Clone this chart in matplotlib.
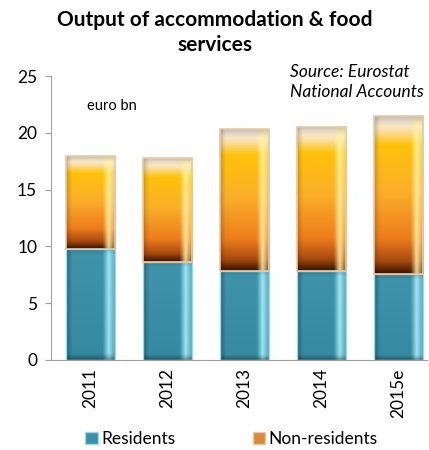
import matplotlib.pyplot as plt
import matplotlib.colors as mcolors
import numpy as np

years = ['2011', '2012', '2013', '2014', '2015e']
residents = [9.8, 8.65, 7.85, 7.8, 7.55]
non_residents = [8.15, 9.1, 12.45, 12.75, 13.9]

plt.rcParams['font.family'] = ['Lato', 'DejaVu Sans']

fig = plt.figure(figsize=(4.29, 4.5), dpi=100)
ax = fig.add_axes([0.119, 0.2, 0.876, 0.631])

x = np.arange(len(years))
width = 0.64


def vgrad(stops, n=120):
    # stops: list of (pos, hex) top->bottom
    pos = [p for p, c in stops]
    cols = np.array([mcolors.to_rgb(c) for p, c in stops])
    t = np.linspace(0, 1, n)
    return np.stack([np.interp(t, pos, cols[:, i]) for i in range(3)], axis=1)


def make_img(col_profile, hi_color, dark=0.35, bot=0.35, n_w=60):
    h = col_profile.shape[0]
    img = np.repeat(col_profile[:, None, :], n_w, axis=1)
    u = np.linspace(0, 1, n_w)
    hi = np.interp(u, [0, 0.74, 0.86, 0.93, 1], [0, 0, 0.85, 0.5, 0.2])
    hi_rgb = np.array(mcolors.to_rgb(hi_color))
    img = img * (1 - hi[None, :, None]) + hi_rgb * hi[None, :, None]
    # darker left edge
    sh = np.interp(u, [0, 0.06, 0.12, 1], [dark, dark * 0.4, 0, 0])
    img = img * (1 - sh[None, :, None])
    # bevel at top / bottom
    v = np.linspace(0, 1, h)
    sv = np.interp(v, [0, 0.03, 0.06, 0.94, 0.97, 1], [0.2, 0.08, 0, 0, bot * 0.4, bot])
    img = img * (1 - sv[:, None, None])
    return np.clip(img, 0, 1)


res_img = make_img(vgrad([(0, '#3f93ab'), (1, '#358aa2')]), '#aef4ff')
non_img = make_img(vgrad([(0, '#f6eee8'), (0.08, '#fae2b4'), (0.18, '#ffc20a'),
                          (0.48, '#fbae2a'), (0.78, '#ec7c1c'), (0.92, '#a84a10'),
                          (1, '#3a1500')]), '#fff4a8', dark=0.2, bot=0.0)

b1 = ax.bar(x, residents, width, facecolor='none', edgecolor='#9fd8e3', linewidth=1, zorder=3,
            label='Residents')
b2 = ax.bar(x, non_residents, width, bottom=residents, facecolor='none', edgecolor='#e8c9a6',
            linewidth=1.2, zorder=3, label='Non-residents')

for bars, img in [(b1, res_img), (b2, non_img)]:
    for p in bars:
        x0, y0 = p.get_x(), p.get_y()
        im = ax.imshow(img, extent=[x0, x0 + p.get_width(), y0, y0 + p.get_height()],
                       aspect='auto', zorder=2, interpolation='bilinear')
        im.set_clip_path(p)

ax.set_xlim(-0.51, 4.37)
ax.set_ylim(0, 25)
ax.set_yticks([0, 5, 10, 15, 20, 25])
ax.set_xticks(x)
ax.set_xticklabels(years, rotation=90, fontsize=12.5)
ax.tick_params(axis='y', labelsize=12.5, length=4, color='#a0a0a0', pad=6)
ax.tick_params(axis='x', length=0, pad=6)
for s in ['top', 'right']:
    ax.spines[s].set_visible(False)
for s in ['left', 'bottom']:
    ax.spines[s].set_color('#a0a0a0')

ax.text(0.28, 22.4, 'euro bn', fontsize=10.5, ha='center', va='center')

fig.text(0.5, 0.955, 'Output of accommodation & food', ha='center', va='center',
         fontsize=15, fontweight='bold')
fig.text(0.5, 0.9, 'services', ha='center', va='center', fontsize=15, fontweight='bold')
fig.text(0.676, 0.84, 'Source: Eurostat', ha='left', va='center', fontsize=12.5, style='italic')
fig.text(0.676, 0.795, 'National Accounts', ha='left', va='center', fontsize=12.5, style='italic')

h1 = plt.Rectangle((0, 0), 1, 1, facecolor='#3a8fa8', edgecolor='#9fd8e3')
h2 = plt.Rectangle((0, 0), 1, 1, facecolor='#d9893a', edgecolor='#e8c9a6')
fig.legend([h1, h2], ['Residents', 'Non-residents'], loc='center', bbox_to_anchor=(0.54, 0.025),
           ncol=2, frameon=False, fontsize=12.5, handlelength=0.7, handleheight=0.7,
           handletextpad=0.2, columnspacing=4.5)

plt.savefig('out.png', dpi=100)
